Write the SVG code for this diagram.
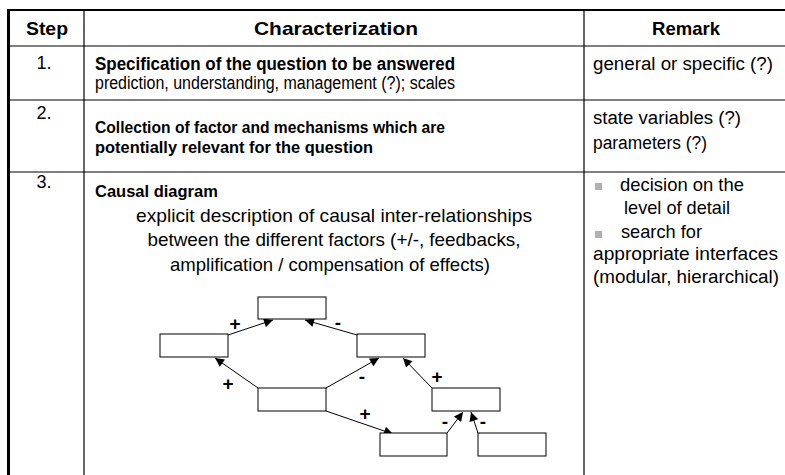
<svg xmlns="http://www.w3.org/2000/svg" width="785" height="475" viewBox="0 0 785 475">
<defs>
<marker id="ah" viewBox="0 0 10 10" refX="10" refY="5" markerWidth="10" markerHeight="9" markerUnits="userSpaceOnUse" orient="auto"><path d="M0,0 L10,5 L0,10 z" fill="#000"/></marker>
</defs>
<style>
.t{font-family:"Liberation Sans",Arial,sans-serif;fill:#000}
.h{font-size:19px;font-weight:bold}
.c{font-size:17px}
.c1{font-size:18px}
.b{font-weight:bold}
.r{font-size:18.5px}
.s{font-size:16.5px;font-weight:bold}
.p{font-size:19px;font-weight:bold}
.grid{stroke:#000;stroke-width:1.2;fill:none}
.box{fill:#fff;stroke:#000;stroke-width:1}
.con{stroke:#000;stroke-width:1;fill:none;marker-end:url(#ah)}
.bul{fill:#b0b0b0}
</style>
<rect width="785" height="475" fill="#fff"/>
<g id="table">
<line class="grid" x1="8" y1="10" x2="785" y2="10" style="stroke-width:2"/>
<line class="grid" x1="8" y1="46" x2="785" y2="46"/>
<line class="grid" x1="8" y1="100" x2="785" y2="100"/>
<line class="grid" x1="8" y1="172" x2="785" y2="172"/>
<line class="grid" x1="8.5" y1="9" x2="8.5" y2="475" style="stroke-width:3"/>
<line class="grid" x1="84" y1="10" x2="84" y2="475"/>
<line class="grid" x1="584" y1="10" x2="584" y2="475"/>
</g>
<g id="header">
<text class="t h" x="47" y="35" text-anchor="middle" textLength="42" lengthAdjust="spacingAndGlyphs">Step</text>
<text class="t h" x="336" y="35" text-anchor="middle" textLength="164" lengthAdjust="spacingAndGlyphs">Characterization</text>
<text class="t h" x="686" y="35" text-anchor="middle" textLength="68" lengthAdjust="spacingAndGlyphs">Remark</text>
</g>
<g id="row1">
<text class="t c1" x="44" y="69" text-anchor="middle">1.</text>
<text class="t c1 b" x="95" y="70" textLength="360" lengthAdjust="spacingAndGlyphs">Specification of the question to be answered</text>
<text class="t c1" x="95" y="89" textLength="360" lengthAdjust="spacingAndGlyphs">prediction, understanding, management (?); scales</text>
<text class="t c1" x="593" y="70" textLength="180" lengthAdjust="spacingAndGlyphs">general or specific (?)</text>
</g>
<g id="row2">
<text class="t c1" x="44" y="119" text-anchor="middle">2.</text>
<text class="t c b" x="95" y="133" textLength="350" lengthAdjust="spacingAndGlyphs">Collection of factor and mechanisms which are</text>
<text class="t c b" x="95" y="153" textLength="278" lengthAdjust="spacingAndGlyphs">potentially relevant for the question</text>
<text class="t c1" x="593" y="124" textLength="148" lengthAdjust="spacingAndGlyphs">state variables (?)</text>
<text class="t c1" x="593" y="149" textLength="114" lengthAdjust="spacingAndGlyphs">parameters (?)</text>
</g>
<g id="row3">
<text class="t c1" x="44" y="188" text-anchor="middle">3.</text>
<text class="t s" x="95" y="197">Causal diagram</text>
<text class="t r" x="334" y="222" text-anchor="middle" textLength="396" lengthAdjust="spacingAndGlyphs">explicit description of causal inter-relationships</text>
<text class="t r" x="334" y="246" text-anchor="middle" textLength="373" lengthAdjust="spacingAndGlyphs">between the different factors (+/-, feedbacks,</text>
<text class="t r" x="330" y="271" text-anchor="middle" textLength="320" lengthAdjust="spacingAndGlyphs">amplification / compensation of effects)</text>
<rect class="bul" x="595" y="183" width="7" height="7"/>
<text class="t r" x="620" y="191" textLength="124" lengthAdjust="spacingAndGlyphs">decision on the</text>
<text class="t r" x="624" y="214" textLength="106" lengthAdjust="spacingAndGlyphs">level of detail</text>
<rect class="bul" x="595" y="231" width="7" height="7"/>
<text class="t r" x="621" y="238" textLength="81" lengthAdjust="spacingAndGlyphs">search for</text>
<text class="t r" x="593" y="260" textLength="185" lengthAdjust="spacingAndGlyphs">appropriate interfaces</text>
<text class="t r" x="593" y="283" textLength="186" lengthAdjust="spacingAndGlyphs">(modular, hierarchical)</text>
</g>
<g id="connectors">
<line class="con" x1="228" y1="335" x2="273" y2="320"/>
<line class="con" x1="357" y1="335" x2="305" y2="320"/>
<line class="con" x1="258" y1="388" x2="215" y2="358"/>
<line class="con" x1="326" y1="388" x2="379" y2="358"/>
<line class="con" x1="432" y1="388" x2="403" y2="358"/>
<line class="con" x1="326" y1="411" x2="393" y2="434"/>
<line class="con" x1="447" y1="433" x2="463" y2="412"/>
<line class="con" x1="478" y1="433" x2="471" y2="412"/>
<text class="t p" x="235" y="330" text-anchor="middle">+</text>
<text class="t p" x="338" y="329" text-anchor="middle">-</text>
<text class="t p" x="228" y="390" text-anchor="middle">+</text>
<text class="t p" x="362" y="383" text-anchor="middle">-</text>
<text class="t p" x="437" y="383" text-anchor="middle">+</text>
<text class="t p" x="365" y="420" text-anchor="middle">+</text>
<text class="t p" x="445" y="428" text-anchor="middle">-</text>
<text class="t p" x="483" y="428" text-anchor="middle">-</text>
</g>
<g id="nA"><rect class="box" x="258" y="297" width="68" height="22"/></g>
<g id="nB"><rect class="box" x="160" y="334" width="68" height="23"/></g>
<g id="nC"><rect class="box" x="357" y="334" width="68" height="23"/></g>
<g id="nD"><rect class="box" x="258" y="388" width="68" height="23"/></g>
<g id="nE"><rect class="box" x="432" y="388" width="68" height="23"/></g>
<g id="nF"><rect class="box" x="380" y="433" width="67" height="23"/></g>
<g id="nG"><rect class="box" x="478" y="433" width="68" height="23"/></g>
</svg>
